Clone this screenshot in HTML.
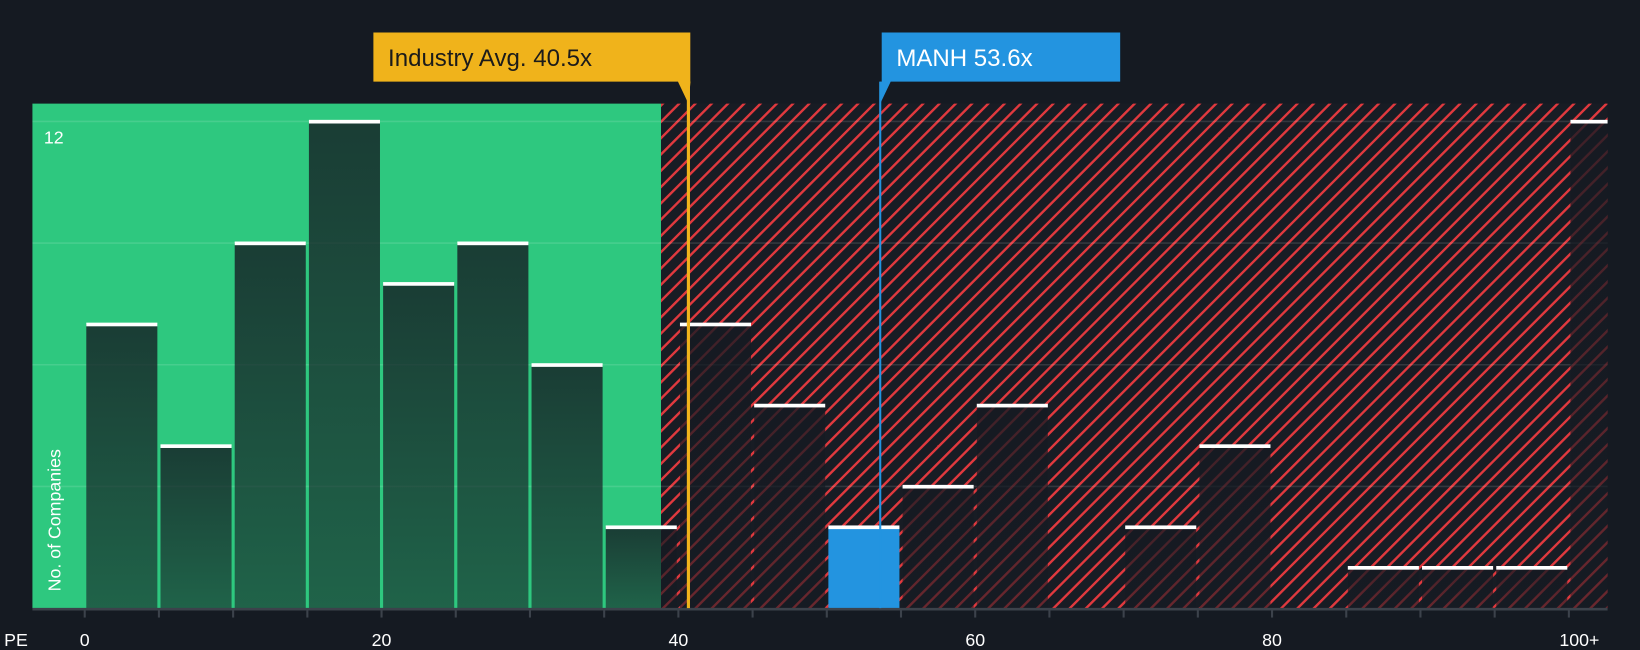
<!DOCTYPE html>
<html><head><meta charset="utf-8"><style>
html,body{margin:0;padding:0;background:#151a22;overflow:hidden}
svg{display:block}
text{font-family:"Liberation Sans",sans-serif}
</style></head><body>
<svg id="chart" width="1640" height="650" viewBox="0 0 1568 621" preserveAspectRatio="none">
<defs>
<pattern id="hatch" patternUnits="userSpaceOnUse" width="11" height="11" patternTransform="rotate(45)">
<rect width="11" height="11" fill="#181c24"/><rect x="0" y="0" width="2.3" height="11" fill="#e0393e"/>
</pattern>
<linearGradient id="barg" x1="0" y1="0" x2="0" y2="1">
<stop offset="0" stop-color="#151a22" stop-opacity="0.8"/>
<stop offset="1" stop-color="#151a22" stop-opacity="0.58"/>
</linearGradient>
</defs>
<rect x="0" y="0" width="1568" height="621" fill="#151a22"/>
<g id="regions"></g>
<g id="grid"></g>
<g id="bars"></g>
<g id="axis"></g>
<g id="markers"></g>
</svg>
<script>
const binStarts = [0,5,10,15,20,25,30,35,40,45,50,55,60,65,70,75,80,85,90,95,100];
const counts = [7,4,9,12,8,9,6,2,7,5,2,3,5,0,2,4,0,1,1,1,12];
const xTicks = [0,20,40,60,80,100];
const xTickLabels = ["0","20","40","60","80","100+"];
const industryAvg = 40.5;
const companyPE = 53.6;
const companyLabel = "MANH 53.6x";
const industryLabel = "Industry Avg. 40.5x";
const yMax = 12;

const NS="http://www.w3.org/2000/svg";
const X = v => 81 + v*14.19;
const Y = v => 581 - v*(465/12);
const plotRight = 1537;
function mk(tag, attrs, parent){const e=document.createElementNS(NS,tag);for(const k in attrs)e.setAttribute(k,attrs[k]);parent.appendChild(e);return e;}
const g = id => document.getElementById(id);

const greenEnd = 632;
let r = mk('rect',{x:31,y:99,width:greenEnd-31,height:482,fill:'#2ec87f'},g('regions'));


r = mk('rect',{x:greenEnd,y:99,width:plotRight-greenEnd,height:482,fill:'url(#hatch)'},g('regions'));



for(let v=3; v<=yMax; v+=3){
  const l=mk('line',{x1:31,x2:plotRight,y1:Y(v),y2:Y(v),stroke:'rgba(255,255,255,0.12)','stroke-width':1.5},g('grid'));
  
  
}
let t = mk('text',{x:42,y:137,fill:'#fff','font-size':17},g('grid'));
t.textContent = String(yMax);


t = mk('text',{x:0,y:0,fill:'#fff','font-size':17,transform:'translate(58,565) rotate(-90)'},g('grid'));
t.textContent='No. of Companies';



binStarts.forEach((s,i)=>{
  const c=counts[i]; if(!c) return;
  const x0=X(s)+1.5;
  const w=Math.min(X(s+5)-1.5, plotRight)-x0;
  const isCo = companyPE>=s && companyPE<s+5;
  const b=mk('rect',{x:x0,y:Y(c),width:w,height:Y(0)-Y(c),fill:isCo?'#2394e0':'url(#barg)'},g('bars'));
  
  
  const cap=mk('rect',{x:x0,y:Y(c)-1.5,width:w,height:3.5,fill:'#fff'},g('bars'));
  
  
});

let ax=mk('line',{x1:31,x2:plotRight,y1:582,y2:582,stroke:'#3c424b','stroke-width':2.5},g('axis'));


for(let v=0; v<=100; v+=5){
  const tk=mk('line',{x1:X(v),x2:X(v),y1:582,y2:590,stroke:'#3c424b','stroke-width':2},g('axis'));
  
  
}
xTicks.forEach((v,i)=>{
  const tl=mk('text',{x:X(v)+(i===xTicks.length-1?10:0),y:617,fill:'#fff','font-size':17,'text-anchor':'middle'},g('axis'));
  tl.textContent=xTickLabels[i];
  
  
});
t=mk('text',{x:4,y:617,fill:'#fff','font-size':17},g('axis'));
t.textContent='PE';



function marker(val,label,color,lx,lw,name){
  const x=X(val)+(name==='industry'?2.5:0);
  const ln=mk('line',{x1:x,x2:x,y1:78,y2:581,stroke:color,'stroke-width':name==='industry'?3:2},g('markers'));
  
  
  const p=mk('path',{d:`M${lx} 31 H${lx+lw} V78 H${x+(name==='industry'?2:10)} L${x} 99 L${x-(name==='industry'?10:0)} 78 H${lx} Z`,fill:color},g('markers'));
  
  
  const tx=mk('text',{x:lx+14,y:63,fill:name==='industry'?'#1b1b1b':'#fff','font-size':23},g('markers'));
  tx.textContent=label;
  
  
}
marker(industryAvg,industryLabel,'#f0b31b',357,303,'industry');
marker(companyPE,companyLabel,'#2394e0',843,228,'company');
</script>
</body></html>
